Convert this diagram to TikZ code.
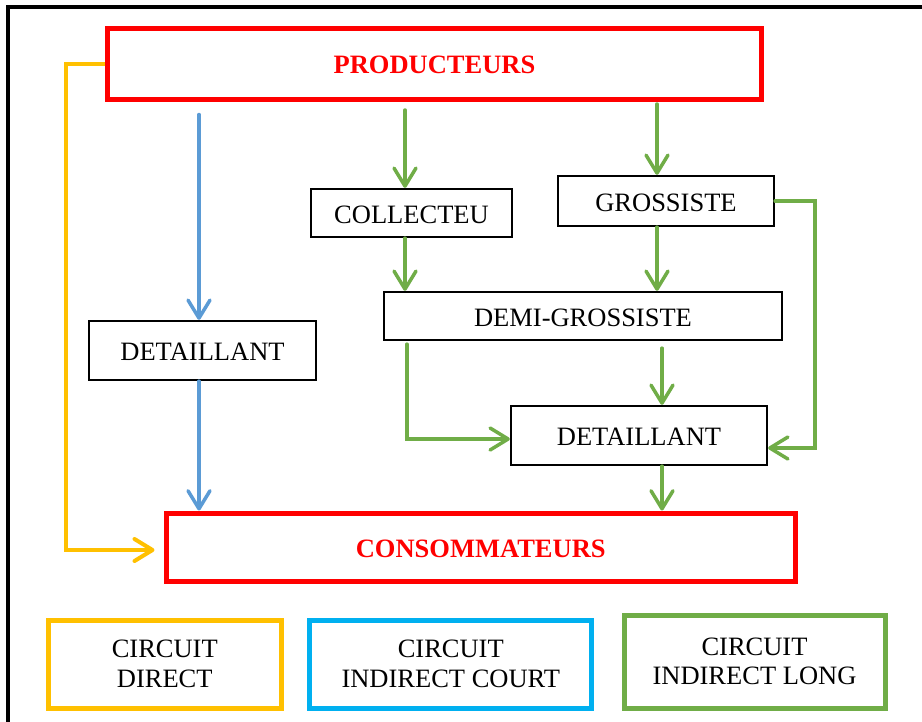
\documentclass[tikz,border=0pt]{standalone}
\usepackage{fontspec}
\setmainfont{Liberation Serif}
\usetikzlibrary{arrows.meta}
\definecolor{cred}{HTML}{FF0000}
\definecolor{cyel}{HTML}{FFC000}
\definecolor{cblu}{HTML}{5B9BD5}
\definecolor{ccya}{HTML}{00B0F0}
\definecolor{cgrn}{HTML}{70AD47}
\begin{document}
\begin{tikzpicture}[x=1pt,y=-1pt,
  txt/.style={font=\fontsize{26.5}{29.5}\selectfont},
  box/.style={draw=black, line width=2.3pt, rectangle, inner sep=0pt, txt, text height=20.5pt, text depth=0pt},
  redbox/.style={draw=cred, line width=5pt, rectangle, inner sep=0pt, font=\fontsize{26.5}{29.5}\selectfont\bfseries, text=cred, text height=19.5pt, text depth=0pt},
  legbox/.style={line width=5pt, rectangle, inner sep=0pt, txt, align=center},
  arr/.style={line width=3.5pt, line cap=round, -{Straight Barb[length=18pt,width=22pt,round]}},
  grn/.style={arr, draw=cgrn},
  blu/.style={arr, draw=cblu},
  yel/.style={arr, line width=4pt, line cap=butt, draw=cyel}
]
\useasboundingbox (0,0) rectangle (922,721);
\fill[white] (0,0) rectangle (922,721);
% outer frame (only top and left visible)
\draw[line width=4pt] (8,730) -- (8,7) -- (930,7);

% nodes
\node[redbox, minimum width=654pt, minimum height=71.5pt] (prod) at (434.5,63.75) {PRODUCTEURS};
\node[box, minimum width=201pt, minimum height=48pt] (coll) at (411.5,213) {COLLECTEU};
\node[box, minimum width=216pt, minimum height=50pt] (gros) at (666,201) {GROSSISTE};
\node[box, minimum width=227pt, minimum height=59pt] (dleft) at (202.5,350.5) {DETAILLANT};
\node[box, minimum width=398pt, minimum height=48pt] (demi) at (583,316) {DEMI-GROSSISTE};
\node[box, minimum width=256pt, minimum height=59pt] (dright) at (639,435.5) {DETAILLANT};
\node[redbox, minimum width=628.5pt, minimum height=68.5pt] (cons) at (480.75,547.25) {CONSOMMATEURS};

\node[legbox, draw=cyel, minimum width=233.5pt, minimum height=88pt] (leg1) at (164.75,664) {CIRCUIT\\DIRECT};
\node[legbox, draw=ccya, minimum width=282pt, minimum height=88pt] (leg2) at (450.75,664) {CIRCUIT\\INDIRECT COURT};
\node[legbox, draw=cgrn, minimum width=261pt, minimum height=93pt] (leg3) at (754.5,661.5) {CIRCUIT\\INDIRECT LONG};

% helper x-positions
\coordinate (bx) at (199,0);
\coordinate (gx1) at (405,0);
\coordinate (gx2) at (657,0);
\coordinate (gx3) at (662,0);

% yellow: direct circuit
\draw[yel] (prod.west) -- ++(-39.5,0) |- ([xshift=-9.5pt,yshift=-2.75pt]cons.west);

% blue: indirect short circuit
\draw[blu, shorten <=12.5pt] (bx |- prod.south) -- (bx |- dleft.north);
\draw[blu] (bx |- dleft.south) -- (bx |- cons.north);

% green: indirect long circuit
\draw[grn, shorten <=8pt] (gx1 |- prod.south) -- (gx1 |- coll.north);
\draw[grn, shorten <=2pt] (gx2 |- prod.south) -- (gx2 |- gros.north);
\draw[grn] (gx1 |- coll.south) -- (gx1 |- demi.north);
\draw[grn] (gx2 |- gros.south) -- (gx2 |- demi.north);
\draw[grn, shorten <=3pt] ([xshift=24pt]demi.south west) |- ([yshift=-3.5pt]dright.west);
\draw[grn, shorten <=7pt] (gx3 |- demi.south) -- (gx3 |- dright.north);
\draw[grn] (gros.east) -- ++(40,0) |- ([yshift=-12.5pt]dright.east);
\draw[grn] (gx3 |- dright.south) -- (gx3 |- cons.north);
\end{tikzpicture}
\end{document}
